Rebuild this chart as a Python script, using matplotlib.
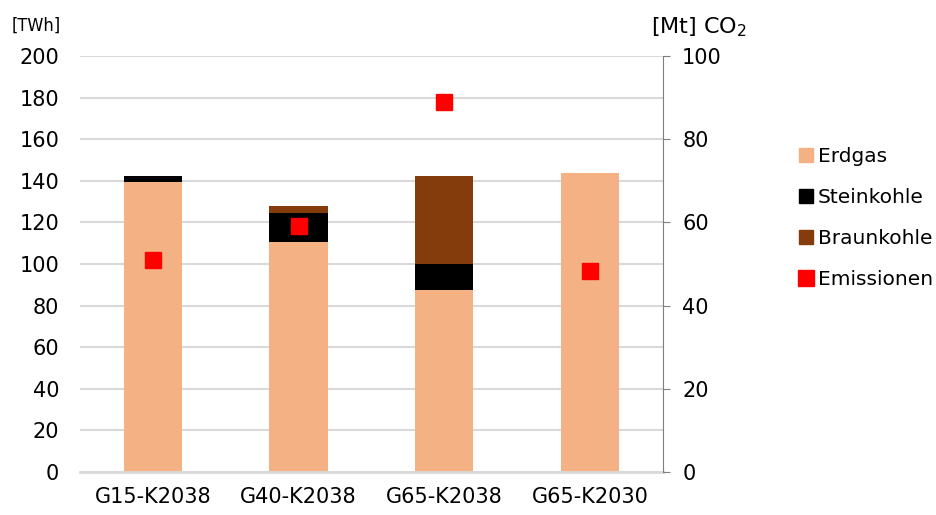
import matplotlib.pyplot as plt
from matplotlib.lines import Line2D
from matplotlib.patches import Patch

# Stromerzeugung nach Energieträger [TWh] und CO2-Emissionen [Mt]
szenarien = ["G15-K2038", "G40-K2038", "G65-K2038", "G65-K2030"]
erdgas = [139.5, 110.5, 87.3, 143.8]
steinkohle = [2.8, 14.0, 12.5, 0.0]
braunkohle = [0.0, 3.4, 42.7, 0.0]
emissionen = [51.0, 59.2, 89.0, 48.3]

farbe_erdgas = "#f4b183"
farbe_stein = "#000000"
farbe_braun = "#843c0c"
farbe_emission = "#ff0000"

plt.rcParams["font.family"] = ["DejaVu Sans"]

fig = plt.figure(figsize=(9.36, 5.15), dpi=100)
ax = fig.add_axes([0.0855, 0.0835, 0.6225, 0.8075])
ax2 = ax.twinx()

x = range(len(szenarien))
breite = 0.4
ax.bar(x, erdgas, breite, color=farbe_erdgas, zorder=2)
ax.bar(x, steinkohle, breite, bottom=erdgas, color=farbe_stein, zorder=2)
unten = [e + s for e, s in zip(erdgas, steinkohle)]
ax.bar(x, braunkohle, breite, bottom=unten, color=farbe_braun, zorder=2)

ax2.plot(x, emissionen, linestyle="none", marker="s", markersize=12,
         color=farbe_emission, zorder=3)

ax.set_xlim(-0.5, 3.5)
ax.set_ylim(0, 200)
ax.set_yticks(range(0, 201, 20))
ax2.set_ylim(0, 100)
ax2.set_yticks(range(0, 101, 20))
ax.set_xticks(list(x))
ax.set_xticklabels(szenarien)

ax.grid(axis="y", color="#d9d9d9", linewidth=1.5, zorder=0)
ax.set_axisbelow(True)
for s in ["top", "left", "right"]:
    ax.spines[s].set_visible(False)
for s in ["top", "left", "bottom"]:
    ax2.spines[s].set_visible(False)
ax.spines["bottom"].set_color("#d9d9d9")
ax.spines["bottom"].set_linewidth(2)
ax2.spines["right"].set_color("#7f7f7f")

ax.tick_params(axis="y", length=0, labelsize=15, pad=15)
ax.tick_params(axis="x", length=0, labelsize=15, pad=11)
ax2.tick_params(axis="y", length=5, color="#7f7f7f", labelsize=15, pad=9)

fig.text(0.012, 0.94, "[TWh]", fontsize=13, fontstretch="condensed")
fig.text(0.695, 0.935, "[Mt] CO$_2$", fontsize=16)

handles = [
    Patch(color=farbe_erdgas, label="Erdgas"),
    Patch(color=farbe_stein, label="Steinkohle"),
    Patch(color=farbe_braun, label="Braunkohle"),
    Line2D([], [], linestyle="none", marker="s", markersize=12,
           color=farbe_emission, label="Emissionen"),
]
fig.legend(handles=handles, loc="center left", bbox_to_anchor=(0.834, 0.577),
           frameon=False, handlelength=0.7, handleheight=0.7,
           handletextpad=0.25, labelspacing=1.1,
           prop={"family": "DejaVu Sans", "size": 14.5})

fig.savefig("out.png", dpi=100)
